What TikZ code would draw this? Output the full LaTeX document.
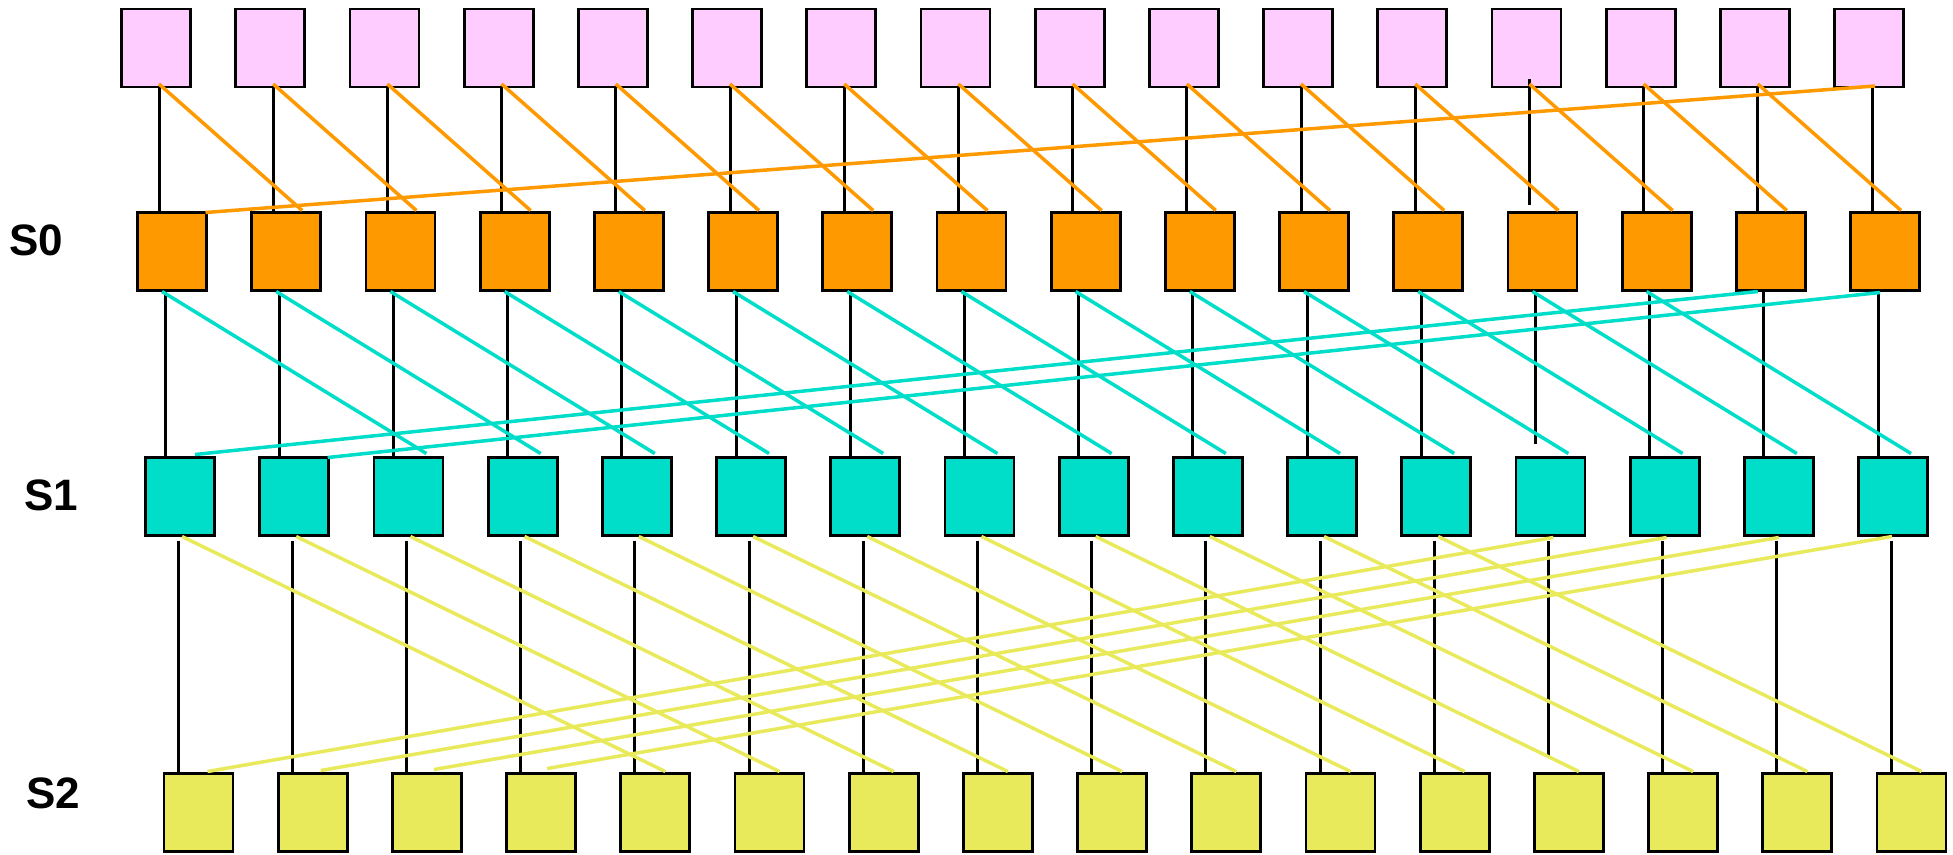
\documentclass[tikz,border=0pt]{standalone}
\usepackage{fontspec}
\setmainfont{Liberation Sans}
\definecolor{pinkbox}{RGB}{255,204,255}
\definecolor{orangebox}{RGB}{255,153,0}
\definecolor{tealbox}{RGB}{0,221,200}
\definecolor{yellowbox}{RGB}{232,234,92}
\begin{document}
\begin{tikzpicture}[x=1pt,y=-1pt,
  cell/.style={draw=black,line width=2.8pt,minimum width=69pt,minimum height=78pt,inner sep=0pt,outer sep=0pt},
  vline/.style={draw=black,line width=3pt},
  oline/.style={draw=orangebox,line width=3.5pt},
  tline/.style={draw=tealbox,line width=3.5pt},
  yline/.style={draw=yellowbox,line width=3.5pt},
  lab/.style={font=\fontsize{44}{48}\selectfont\bfseries,inner sep=0pt}]
\useasboundingbox (0,0) rectangle (1953,854);
% boxes
\foreach \i in {0,...,15}{
  \node[cell,fill=pinkbox]   (p\i) at ({156+114.2*\i},48) {};
  \node[cell,fill=orangebox] (a\i) at ({172+114.2*\i},251.5) {};
  \node[cell,fill=tealbox]   (b\i) at ({180+114.2*\i},496.5) {};
  \node[cell,fill=yellowbox] (c\i) at ({198.5+114.2*\i},812.5) {};
}
% labels
\node[lab] (l0) at (36,240) {S0};
\node[lab] (l1) at (51,495) {S1};
\node[lab] (l2) at (53,793) {S2};
% vertical connectors
\foreach \i in {0,...,15}{
  \ifnum\i=12
    \draw[vline] ([xshift=3pt,yshift=8pt]p\i.south) -- ([xshift=-13pt,yshift=8pt]a\i.north);
    \draw[vline] ([xshift=-7pt]a\i.south) -- ([xshift=-15pt,yshift=14pt]b\i.north);
    \draw[vline] ([xshift=-2pt,yshift=-5pt]b\i.south) -- ([xshift=-20.5pt,yshift=16pt]c\i.north);
  \else
    \draw[vline] ([xshift=3pt]p\i.south) -- ([xshift=-13pt]a\i.north);
    \draw[vline] ([xshift=-7pt]a\i.south) -- ([xshift=-15pt]b\i.north);
    \draw[vline] ([xshift=-2pt,yshift=-5pt]b\i.south) -- ([xshift=-20.5pt]c\i.north);
  \fi
}
% stage 0 : shift by 1
\foreach \i in {0,...,14}{
  \pgfmathtruncatemacro{\j}{\i+1}
  \draw[oline] ([xshift=3pt,yshift=3pt]p\i.south) -- ([xshift=16pt,yshift=2pt]a\j.north);
}
\draw[oline] ([xshift=6pt,yshift=1pt]p15.south) -- ([xshift=-1pt]a0.north east);
% stage 1 : shift by 2
\foreach \i in {0,...,13}{
  \pgfmathtruncatemacro{\j}{\i+2}
  \draw[tline] ([xshift=-10pt,yshift=-1pt]a\i.south) -- ([xshift=18pt,yshift=4pt]b\j.north);
}
\draw[tline] ([xshift=-13pt,yshift=-1pt]a14.south) -- ([xshift=15pt,yshift=3pt]b0.north);
\draw[tline] ([xshift=-5pt,yshift=-2pt]a15.south) -- ([xshift=-1pt]b1.north east);
% stage 2 : shift by 4
\foreach \i in {0,...,11}{
  \pgfmathtruncatemacro{\j}{\i+4}
  \draw[yline] ([xshift=2pt,yshift=-1pt]b\i.south) -- ([xshift=10pt,yshift=2pt]c\j.north);
}
\draw[yline] ([xshift=3pt,yshift=-2pt]b12.south) -- ([xshift=9pt,yshift=2pt]c0.north);
\draw[yline] ([xshift=2pt,yshift=-2pt]b13.south) -- ([xshift=8pt,yshift=3pt]c1.north);
\draw[yline] ([xshift=0pt,yshift=-2pt]b14.south) -- ([xshift=7pt,yshift=4pt]c2.north);
\draw[yline] ([xshift=-1pt,yshift=-1pt]b15.south) -- ([xshift=6pt,yshift=5pt]c3.north);
\end{tikzpicture}
\end{document}
